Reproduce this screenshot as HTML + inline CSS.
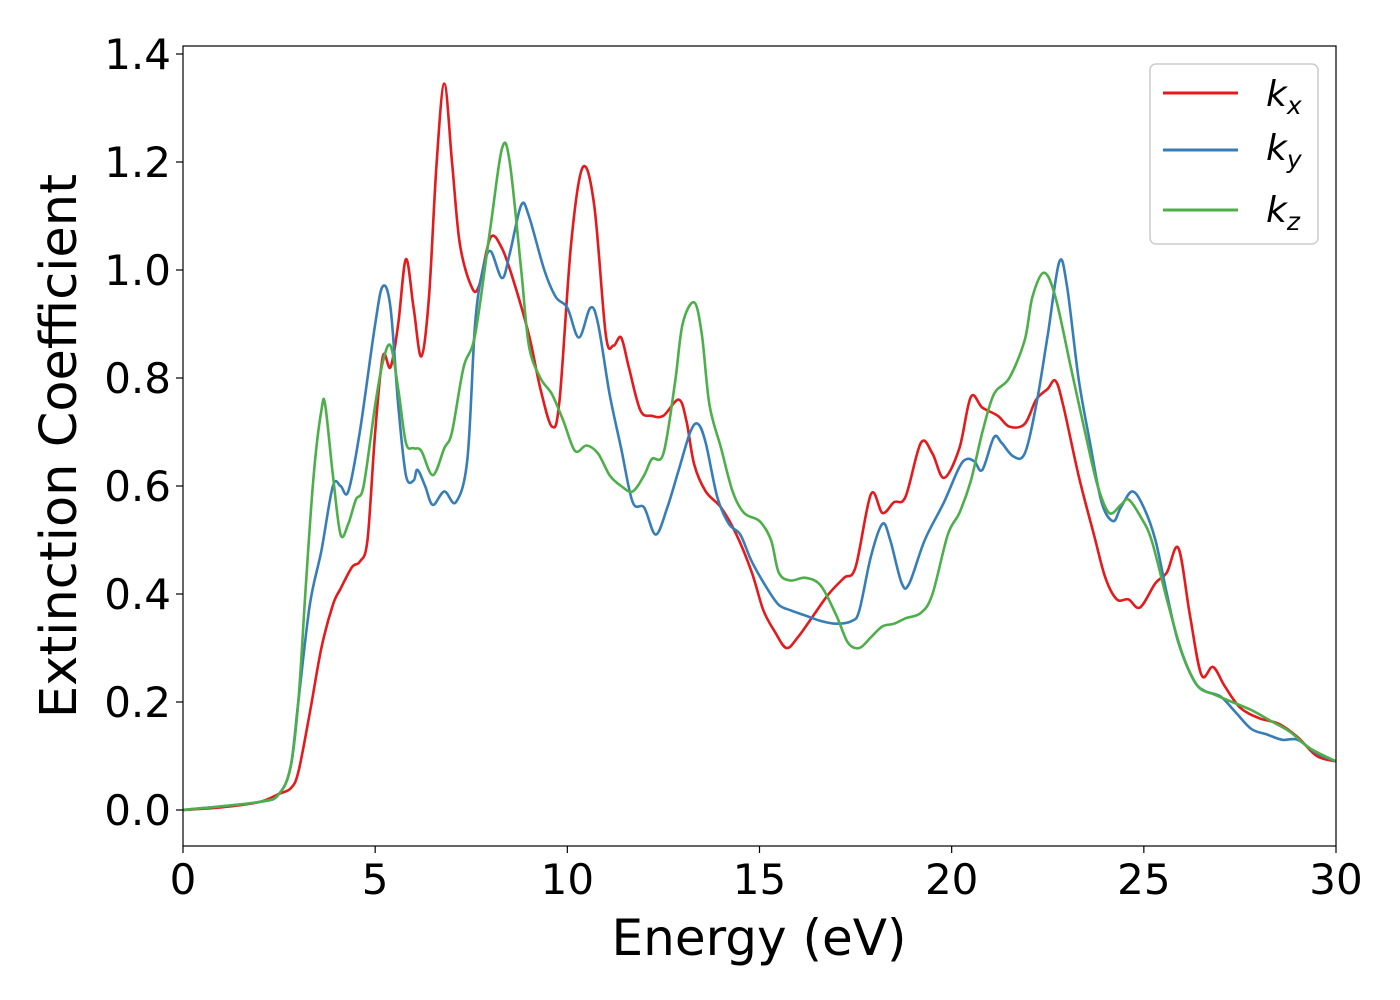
<!DOCTYPE html>
<html><head><meta charset="utf-8"><style>
body{margin:0;background:#fff}
svg{display:block;font-family:"DejaVu Sans","Liberation Sans",sans-serif}
</style></head><body>
<svg id="chart" width="1400" height="1000">
<rect x="0" y="0" width="1400" height="1000" fill="#fff"/>
<g id="plot"></g>
<g id="axes"></g>
<text x="759" y="955" font-size="50" text-anchor="middle">Energy (eV)</text>
<text transform="translate(76,446) rotate(-90)" font-size="51" text-anchor="middle">Extinction Coefficient</text>
<g>
<rect x="1150" y="64" width="168" height="180" rx="6" fill="#fff" stroke="#ccc" stroke-width="1.5"/>
<g><line x1="1163" y1="93" x2="1238" y2="93" stroke="#e41a1c" stroke-width="3"/><text x="1266" y="106" font-size="36" font-style="italic">k<tspan font-size="25" dy="8">x</tspan></text></g>
<g><line x1="1163" y1="150" x2="1238" y2="150" stroke="#377eb8" stroke-width="3"/><text x="1266" y="160" font-size="36" font-style="italic">k<tspan font-size="25" dy="8">y</tspan></text></g>
<g><line x1="1163" y1="210" x2="1238" y2="210" stroke="#4daf4a" stroke-width="3"/><text x="1266" y="222" font-size="36" font-style="italic">k<tspan font-size="25" dy="8">z</tspan></text></g>
</g>
</svg>
<script>
const xTicks=[0,5,10,15,20,25,30];
const yTicks=[0.0,0.2,0.4,0.6,0.8,1.0,1.2,1.4];
const kxE=[0,1,2,2.5,2.8,3.0,3.3,3.6,3.9,4.1,4.4,4.6,4.8,5.0,5.2,5.4,5.6,5.8,6.0,6.2,6.4,6.6,6.8,7.0,7.2,7.5,7.7,8.0,8.3,8.6,9.0,9.3,9.6,9.8,10.1,10.4,10.7,11.0,11.2,11.4,11.6,11.9,12.2,12.5,12.9,13.1,13.3,13.6,14.0,14.4,14.8,15.1,15.4,15.7,16.0,16.4,16.8,17.2,17.5,17.9,18.2,18.5,18.8,19.2,19.5,19.8,20.2,20.5,20.8,21.2,21.5,21.9,22.2,22.5,22.7,22.9,23.3,23.7,24.0,24.3,24.6,24.9,25.3,25.6,25.9,26.2,26.5,26.8,27.1,27.5,28.0,28.5,29.0,29.5,30];
const kxV=[0,0.005,0.015,0.03,0.04,0.07,0.18,0.3,0.38,0.41,0.45,0.46,0.5,0.7,0.84,0.82,0.9,1.02,0.93,0.84,0.95,1.2,1.345,1.2,1.05,0.97,0.97,1.06,1.04,0.98,0.88,0.78,0.71,0.76,1.05,1.19,1.12,0.88,0.86,0.875,0.82,0.74,0.73,0.73,0.76,0.72,0.64,0.59,0.56,0.51,0.44,0.37,0.33,0.30,0.32,0.36,0.40,0.43,0.45,0.585,0.55,0.57,0.58,0.68,0.66,0.615,0.67,0.765,0.745,0.73,0.71,0.715,0.76,0.78,0.795,0.75,0.62,0.51,0.43,0.39,0.39,0.375,0.42,0.44,0.485,0.36,0.25,0.265,0.23,0.19,0.17,0.16,0.135,0.10,0.09];
const kyE=[0,2,2.5,2.8,3.0,3.3,3.6,3.9,4.1,4.3,4.6,5.0,5.2,5.4,5.6,5.8,6.0,6.1,6.3,6.5,6.8,7.1,7.4,7.6,7.8,8.0,8.3,8.5,8.8,9.0,9.4,9.7,10.0,10.3,10.6,10.8,11.1,11.4,11.7,12.0,12.3,12.6,12.9,13.2,13.4,13.6,13.9,14.2,14.5,14.8,15.2,15.5,15.8,16.2,16.6,17.0,17.4,17.6,17.9,18.2,18.4,18.7,18.9,19.3,19.8,20.2,20.4,20.6,20.8,21.1,21.3,21.6,21.9,22.2,22.5,22.8,23.0,23.3,23.6,23.9,24.2,24.4,24.7,25.0,25.3,25.6,25.9,26.3,26.6,27.0,27.4,27.8,28.2,28.6,29.0,29.5,30];
const kyV=[0,0.015,0.03,0.08,0.2,0.38,0.48,0.6,0.6,0.59,0.7,0.9,0.97,0.93,0.75,0.62,0.61,0.63,0.6,0.565,0.59,0.57,0.65,0.9,1.0,1.035,0.985,1.03,1.12,1.1,1.0,0.95,0.93,0.875,0.93,0.9,0.77,0.67,0.57,0.56,0.51,0.56,0.63,0.7,0.715,0.68,0.58,0.53,0.51,0.46,0.41,0.38,0.37,0.36,0.35,0.345,0.35,0.37,0.47,0.53,0.5,0.42,0.42,0.5,0.57,0.635,0.65,0.645,0.63,0.69,0.68,0.655,0.66,0.75,0.88,1.015,0.97,0.8,0.68,0.57,0.535,0.56,0.59,0.56,0.5,0.4,0.31,0.24,0.22,0.21,0.18,0.15,0.14,0.13,0.13,0.105,0.09];
const kzE=[0,2,2.5,2.8,3.0,3.2,3.4,3.6,3.7,3.9,4.1,4.3,4.5,4.7,5.0,5.2,5.4,5.6,5.8,6.0,6.2,6.5,6.8,7.0,7.3,7.6,8.0,8.3,8.5,8.8,9.0,9.3,9.6,9.9,10.2,10.5,10.8,11.1,11.4,11.7,12.0,12.2,12.5,12.8,13.0,13.3,13.5,13.7,14.0,14.3,14.6,15.0,15.3,15.5,15.8,16.2,16.6,17.0,17.3,17.6,17.9,18.2,18.5,18.8,19.2,19.5,19.9,20.2,20.5,20.8,21.1,21.5,21.9,22.1,22.4,22.7,23.1,23.5,23.8,24.1,24.4,24.6,24.9,25.2,25.6,26.0,26.4,26.8,27.3,27.8,28.3,28.8,29.3,30];
const kzV=[0,0.015,0.03,0.08,0.2,0.42,0.62,0.74,0.75,0.62,0.51,0.53,0.575,0.6,0.75,0.83,0.86,0.78,0.68,0.67,0.665,0.62,0.67,0.7,0.82,0.88,1.08,1.225,1.2,1.0,0.86,0.8,0.77,0.72,0.665,0.675,0.66,0.62,0.6,0.59,0.62,0.65,0.66,0.79,0.9,0.94,0.88,0.75,0.67,0.59,0.55,0.535,0.5,0.44,0.425,0.43,0.415,0.36,0.31,0.3,0.32,0.34,0.345,0.355,0.365,0.4,0.51,0.55,0.61,0.7,0.77,0.8,0.87,0.95,0.995,0.95,0.82,0.69,0.6,0.55,0.565,0.575,0.545,0.5,0.39,0.29,0.23,0.215,0.2,0.185,0.165,0.145,0.115,0.09];

const X0=183,X1=1336,Y0=810,YT=54,TOP=46,BOT=846;
const xs=e=>X0+(e-0)/30*(X1-X0);
const ys=v=>Y0-v/1.4*(Y0-YT);
const NS='http://www.w3.org/2000/svg';
const plot=document.getElementById('plot'),axes=document.getElementById('axes');
function mk(tag,attrs,parent){const el=document.createElementNS(NS,tag);for(const k in attrs)el.setAttribute(k,attrs[k]);parent.appendChild(el);return el;}
function pathFor(E,V){
  const p=E.map((e,i)=>[xs(e),ys(V[i])]);
  let d='M'+p[0][0].toFixed(1)+','+p[0][1].toFixed(1);
  for(let i=0;i<p.length-1;i++){
    const a=p[Math.max(i-1,0)],b=p[i],c=p[i+1],n=p[Math.min(i+2,p.length-1)];
    const c1=[b[0]+(c[0]-a[0])/6,b[1]+(c[1]-a[1])/6],c2=[c[0]-(n[0]-b[0])/6,c[1]-(n[1]-b[1])/6];
    d+='C'+c1.map(v=>v.toFixed(1))+' '+c2.map(v=>v.toFixed(1))+' '+c[0].toFixed(1)+','+c[1].toFixed(1);
  }
  return d;
}
const clip=mk('clipPath',{id:'pc'},plot);mk('rect',{x:X0,y:TOP,width:X1-X0,height:BOT-TOP},clip);
const series=[[kxE,kxV,'#e41a1c','kx'],[kyE,kyV,'#377eb8','ky'],[kzE,kzV,'#4daf4a','kz']];
series.forEach(s=>{
  const el=mk('path',{d:pathFor(s[0],s[1]),fill:'none',stroke:s[2],'stroke-width':2.6,'clip-path':'url(#pc)'},plot);
  
  
});
const frame=mk('rect',{x:X0,y:TOP,width:X1-X0,height:BOT-TOP,fill:'none',stroke:'#000','stroke-width':1.2},axes);


xTicks.forEach(t=>{
  const x=xs(t);
  mk('line',{x1:x,y1:BOT,x2:x,y2:BOT+7,stroke:'#000','stroke-width':1.2},axes);
  const tx=mk('text',{x:x,y:BOT+48,'font-size':42,'text-anchor':'middle'},axes);
  tx.textContent=String(t);
  
  
});
yTicks.forEach(t=>{
  const y=ys(t);
  mk('line',{x1:X0-7,y1:y,x2:X0,y2:y,stroke:'#000','stroke-width':1.2},axes);
  const tx=mk('text',{x:X0-12,y:y+15,'font-size':42,'text-anchor':'end'},axes);
  tx.textContent=t.toFixed(1);
  
  
});
</script>
</body></html>
